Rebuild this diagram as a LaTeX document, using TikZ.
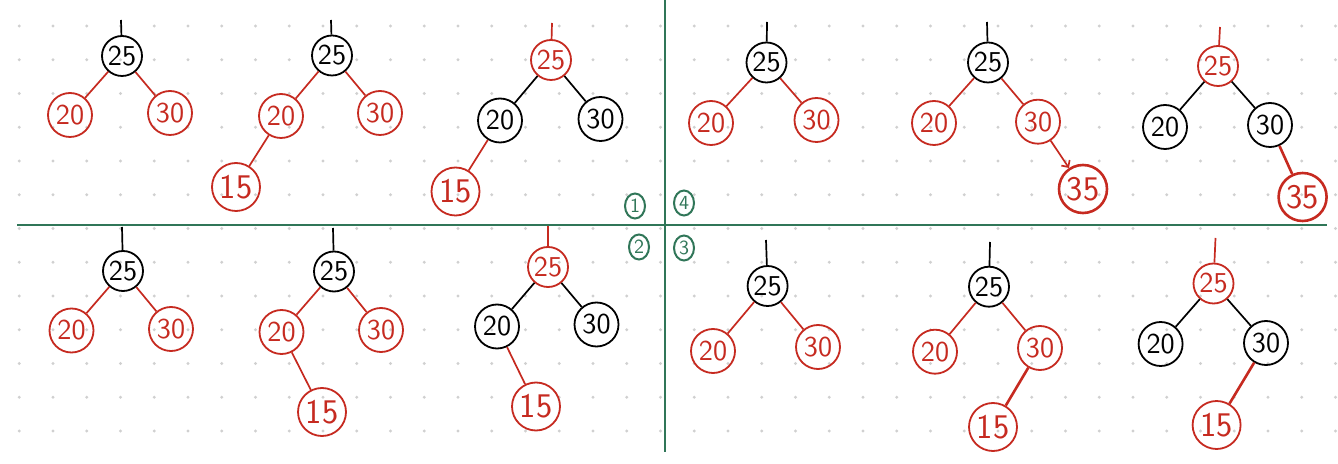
\documentclass[tikz,border=0pt]{standalone}
\usepackage{tikz}
\usetikzlibrary{positioning, calc, shapes.geometric, arrows.meta}
\definecolor{nodered}{RGB}{198,42,32}
\definecolor{rulegreen}{RGB}{48,118,88}
\definecolor{dotgrey}{RGB}{208,208,208}

\tikzset{
  blk/.style={circle, draw=black, text=black, line width=0.9pt, minimum size=22pt, inner sep=0pt, font=\sffamily\Large},
  rd/.style={blk, draw=nodered, text=nodered},
  rootsz/.style={minimum size=20pt},
  leafsz/.style={minimum size=24pt, font=\sffamily\LARGE},
  heavy/.style={line width=1.3pt},
  edgeblk/.style={draw=black, line width=0.85pt},
  edgerd/.style={draw=nodered, line width=0.85pt},
  tag/.style={ellipse, draw=rulegreen, text=rulegreen, line width=1pt, minimum width=10pt, minimum height=12.5pt, inner sep=0pt, font=\sffamily}
}

\begin{document}
\begin{tikzpicture}[x=0.5pt, y=-0.5pt]
\useasboundingbox (0,0) rectangle (1338,464);
\fill[white] (0,0) rectangle (1338,464);

% dot grid
\foreach \i in {0,...,39}
  \foreach \j in {0,...,12}
    \fill[dotgrey] (19.3+33.75*\i, 26+33.75*\j) circle (0.8pt);

% quadrant rules
\draw[rulegreen, line width=1.4pt] (17,225) -- (1327,225);
\draw[rulegreen, line width=1.4pt] (665,0) -- (665,452);

%% ---- panel 1 (top left) ----
\coordinate (p1atop) at (121,20);
\node[blk, rootsz] (p1a25) at (122,56) {25};
\node[rd] (p1a20) at (70,115) {20};
\node[rd] (p1a30) at (170,113) {30};
\draw[edgeblk] (p1atop) -- (p1a25);
\draw[edgerd] (p1a25) -- (p1a20);
\draw[edgerd] (p1a25) -- (p1a30);

\coordinate (p1btop) at (331,20);
\node[blk, rootsz] (p1b25) at (332,55.5) {25};
\node[rd] (p1b20) at (281,116) {20};
\node[rd] (p1b30) at (380,113) {30};
\node[rd, leafsz] (p1b15) at (236,187) {15};
\draw[edgeblk] (p1btop) -- (p1b25);
\draw[edgerd] (p1b25) -- (p1b20);
\draw[edgerd] (p1b25) -- (p1b30);
\draw[edgerd] (p1b20) -- (p1b15);

\coordinate (p1ctop) at (552,23);
\node[rd, rootsz] (p1c25) at (551,60) {25};
\node[blk] (p1c20) at (500,120.5) {20};
\node[blk] (p1c30) at (600.5,119) {30};
\node[rd, leafsz] (p1c15) at (455.5,191.5) {15};
\draw[edgerd] (p1ctop) -- (p1c25);
\draw[edgeblk] (p1c25) -- (p1c20);
\draw[edgeblk] (p1c25) -- (p1c30);
\draw[edgerd] (p1c20) -- (p1c15);

\node[tag] (tag1) at (635,206) {1};

%% ---- panel 2 (bottom left) ----
\coordinate (p2atop) at (122,227);
\node[blk, rootsz] (p2a25) at (123,271) {25};
\node[rd] (p2a20) at (71.5,330.5) {20};
\node[rd] (p2a30) at (171,329) {30};
\draw[edgeblk] (p2atop) -- (p2a25);
\draw[edgerd] (p2a25) -- (p2a20);
\draw[edgerd] (p2a25) -- (p2a30);

\coordinate (p2btop) at (333,228);
\node[blk, rootsz] (p2b25) at (334,271.5) {25};
\node[rd] (p2b20) at (281.5,332) {20};
\node[rd] (p2b30) at (381,330) {30};
\node[rd, leafsz] (p2b15) at (322,412) {15};
\draw[edgeblk] (p2btop) -- (p2b25);
\draw[edgerd] (p2b25) -- (p2b20);
\draw[edgerd] (p2b25) -- (p2b30);
\draw[edgerd] (p2b20) -- (p2b15);

\coordinate (p2ctop) at (548,226);
\node[rd, rootsz] (p2c25) at (548,267) {25};
\node[blk] (p2c20) at (497,326.5) {20};
\node[blk] (p2c30) at (596.5,324.5) {30};
\node[rd, leafsz] (p2c15) at (536,406.5) {15};
\draw[edgerd] (p2ctop) -- (p2c25);
\draw[edgeblk] (p2c25) -- (p2c20);
\draw[edgeblk] (p2c25) -- (p2c30);
\draw[edgerd] (p2c20) -- (p2c15);

\node[tag] (tag2) at (639,247) {2};

%% ---- panel 4 (top right) ----
\coordinate (p4atop) at (767,22);
\node[blk, rootsz] (p4a25) at (766.5,62.5) {25};
\node[rd] (p4a20) at (711,123) {20};
\node[rd] (p4a30) at (816.5,120) {30};
\draw[edgeblk] (p4atop) -- (p4a25);
\draw[edgerd] (p4a25) -- (p4a20);
\draw[edgerd] (p4a25) -- (p4a30);

\coordinate (p4btop) at (987,22);
\node[blk, rootsz] (p4b25) at (988,62.5) {25};
\node[rd] (p4b20) at (934,123) {20};
\node[rd] (p4b30) at (1038,121.7) {30};
\node[rd, leafsz, heavy] (p4b35) at (1083,189) {35};
\draw[edgeblk] (p4btop) -- (p4b25);
\draw[edgerd] (p4b25) -- (p4b20);
\draw[edgerd] (p4b25) -- (p4b30);
\draw[edgerd, -{Straight Barb[length=2.5pt]}] (p4b30) -- (p4b35);

\coordinate (p4ctop) at (1220,27);
\node[rd, rootsz] (p4c25) at (1218,66) {25};
\node[blk] (p4c20) at (1165,127) {20};
\node[blk] (p4c30) at (1270,125) {30};
\node[rd, leafsz, heavy] (p4c35) at (1302.6,197) {35};
\draw[edgerd] (p4ctop) -- (p4c25);
\draw[edgeblk] (p4c25) -- (p4c20);
\draw[edgeblk] (p4c25) -- (p4c30);
\draw[edgerd, heavy] (p4c30) -- (p4c35);

\node[tag] (tag4) at (684,203) {4};

%% ---- panel 3 (bottom right) ----
\coordinate (p3atop) at (766,240);
\node[blk, rootsz] (p3a25) at (767.6,286) {25};
\node[rd] (p3a20) at (713,351) {20};
\node[rd] (p3a30) at (818,347) {30};
\draw[edgeblk] (p3atop) -- (p3a25);
\draw[edgerd] (p3a25) -- (p3a20);
\draw[edgerd] (p3a25) -- (p3a30);

\coordinate (p3btop) at (990,242);
\node[blk, rootsz] (p3b25) at (989,286.7) {25};
\node[rd] (p3b20) at (935,351.7) {20};
\node[rd] (p3b30) at (1040,348) {30};
\node[rd, leafsz] (p3b15) at (993,427) {15};
\draw[edgeblk] (p3btop) -- (p3b25);
\draw[edgerd] (p3b25) -- (p3b20);
\draw[edgerd] (p3b25) -- (p3b30);
\draw[edgerd, heavy] (p3b30) -- (p3b15);

\coordinate (p3ctop) at (1215.5,238);
\node[rd, rootsz] (p3c25) at (1213.5,283.5) {25};
\node[blk] (p3c20) at (1160.6,344) {20};
\node[blk] (p3c30) at (1266,343) {30};
\node[rd, leafsz] (p3c15) at (1216.6,425) {15};
\draw[edgerd] (p3ctop) -- (p3c25);
\draw[edgeblk] (p3c25) -- (p3c20);
\draw[edgeblk] (p3c25) -- (p3c30);
\draw[edgerd, heavy] (p3c30) -- (p3c15);

\node[tag] (tag3) at (684,248) {3};
\end{tikzpicture}
\end{document}
